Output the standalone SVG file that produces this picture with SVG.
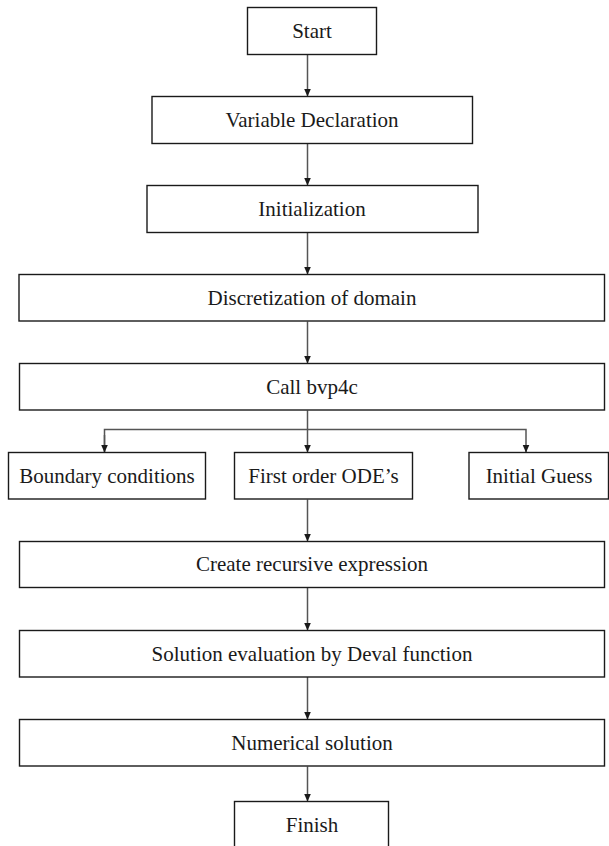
<svg xmlns="http://www.w3.org/2000/svg" width="609" height="846" viewBox="0 0 609 846">
<style>
.box{fill:#fff;stroke:#1a1a1a;stroke-width:1.4}
.lbl{font-family:"Liberation Serif","Times New Roman",serif;font-size:21px;fill:#1a1a1a;text-anchor:middle}
.con{fill:none;stroke:#555;stroke-width:1.5}
</style>
<defs>
<marker id="ah" viewBox="0 0 8 8" markerWidth="8" markerHeight="8" refX="8" refY="4" orient="auto" markerUnits="userSpaceOnUse">
<path d="M0,0.5 L8,4 L0,7.5 Z" fill="#1a1a1a"/>
</marker>
</defs>
<rect width="609" height="846" fill="#fff"/>
<g id="connectors">
<line class="con" x1="307.5" y1="55" x2="307.5" y2="96.5" marker-end="url(#ah)"/>
<line class="con" x1="307.5" y1="144" x2="307.5" y2="185.5" marker-end="url(#ah)"/>
<line class="con" x1="307.5" y1="233" x2="307.5" y2="274.5" marker-end="url(#ah)"/>
<line class="con" x1="307.5" y1="321.5" x2="307.5" y2="363.5" marker-end="url(#ah)"/>
<line class="con" x1="307.5" y1="410.5" x2="307.5" y2="452.5" marker-end="url(#ah)"/>
<polyline class="con" points="104.5,452.5 104.5,429.5 526,429.5 526,452.5" marker-end="url(#ah)"/>
<line class="con" x1="104.5" y1="435" x2="104.5" y2="452.5" marker-end="url(#ah)"/>
<line class="con" x1="307.5" y1="499.5" x2="307.5" y2="541.5" marker-end="url(#ah)"/>
<line class="con" x1="307.5" y1="588" x2="307.5" y2="630.5" marker-end="url(#ah)"/>
<line class="con" x1="307.5" y1="677" x2="307.5" y2="719.5" marker-end="url(#ah)"/>
<line class="con" x1="307.5" y1="766.5" x2="307.5" y2="801.5" marker-end="url(#ah)"/>
</g>
<g id="start"><rect class="box" x="247.5" y="7.5" width="129" height="47"/><text class="lbl" x="312" y="37.5">Start</text></g>
<g id="variable-declaration"><rect class="box" x="152" y="96.5" width="320.5" height="47"/><text class="lbl" x="312" y="126.5">Variable Declaration</text></g>
<g id="initialization"><rect class="box" x="147" y="185.5" width="331" height="47"/><text class="lbl" x="312" y="215.5">Initialization</text></g>
<g id="discretization"><rect class="box" x="19" y="274.5" width="585.5" height="46.5"/><text class="lbl" x="312" y="304.5">Discretization of domain</text></g>
<g id="call-bvp4c"><rect class="box" x="19.5" y="363.5" width="585" height="46.5"/><text class="lbl" x="312" y="393.5">Call bvp4c</text></g>
<g id="boundary-conditions"><rect class="box" x="8.5" y="452.5" width="197" height="46.5"/><text class="lbl" x="107" y="482.5">Boundary conditions</text></g>
<g id="first-order-odes"><rect class="box" x="234.5" y="452.5" width="178" height="46.5"/><text class="lbl" x="323.5" y="482.5">First order ODE’s</text></g>
<g id="initial-guess"><rect class="box" x="469" y="452.5" width="139.5" height="46.5"/><text class="lbl" x="539" y="482.5">Initial Guess</text></g>
<g id="create-recursive"><rect class="box" x="19.5" y="541.5" width="585" height="46"/><text class="lbl" x="312" y="571">Create recursive expression</text></g>
<g id="solution-evaluation"><rect class="box" x="19.5" y="630.5" width="585" height="46.5"/><text class="lbl" x="312" y="660.5">Solution evaluation by Deval function</text></g>
<g id="numerical-solution"><rect class="box" x="19.5" y="719.5" width="585" height="46.5"/><text class="lbl" x="312" y="749.5">Numerical solution</text></g>
<g id="finish"><rect class="box" x="234.5" y="801.5" width="154" height="60"/><text class="lbl" x="312" y="831.5">Finish</text></g>
</svg>
